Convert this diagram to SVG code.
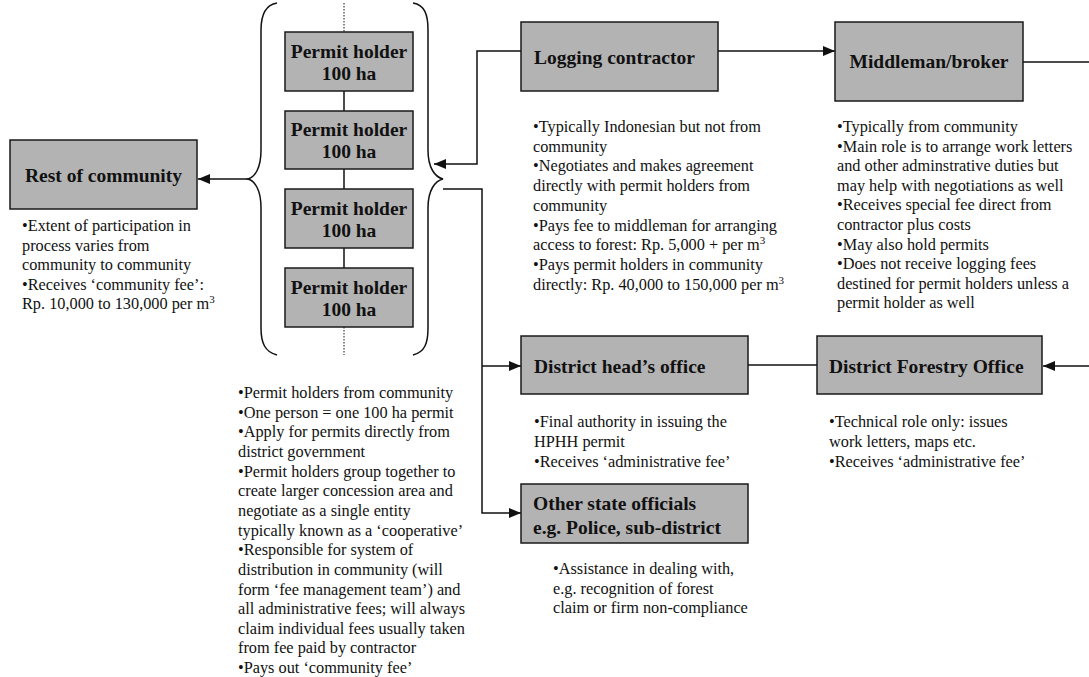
<svg xmlns="http://www.w3.org/2000/svg" width="1089" height="677" viewBox="0 0 1089 677">
<style>
.box{fill:#b3b3b3;stroke:#1a1a1a;stroke-width:1.5}
.lbl{font-family:"Liberation Serif","Times New Roman",serif;font-weight:bold;font-size:19.5px;fill:#111}
.note{font-family:"Liberation Serif","Times New Roman",serif;font-size:16.3px;fill:#111}
.ln{fill:none;stroke:#111;stroke-width:1.5}
.dot{fill:none;stroke:#111;stroke-width:1;stroke-dasharray:1.5 1.5}
</style>
<defs>
<marker id="ah" markerWidth="12" markerHeight="10" refX="12" refY="5" orient="auto" markerUnits="userSpaceOnUse">
<path d="M0,0 L12,5 L0,10 Z" fill="#111"/>
</marker>
</defs>
<rect width="1089" height="677" fill="#fff"/>

<g id="connectors">
<path class="ln" d="M261,30 C261,15 265,5 277,3 M261,30 L261,150 C261,168 255,177 248,179 C255,181 261,190 261,208 L261,328 C261,343 265,352 277,355"/>
<path class="ln" d="M413,3 C425,5 428,15 428,30 L428,150 C428,168 435,177 443,179 C435,181 428,190 428,208 L428,328 C428,343 425,352 413,355"/>
<line class="dot" x1="344" y1="3" x2="344" y2="32"/>
<line class="dot" x1="344" y1="327" x2="344" y2="355"/>
<line class="ln" x1="344" y1="91" x2="344" y2="111"/>
<line class="ln" x1="344" y1="169" x2="344" y2="189"/>
<line class="ln" x1="344" y1="248" x2="344" y2="268"/>
<path class="ln" d="M248,179 L198,179" marker-end="url(#ah)"/>
<path class="ln" d="M521,51 L477,51 L477,164 L434,164" marker-end="url(#ah)"/>
<path class="ln" d="M718,51 L835,51" marker-end="url(#ah)"/>
<path class="ln" d="M1023,62 L1089,62"/>
<path class="ln" d="M443,189 L482,189 L482,513 L521,513" marker-end="url(#ah)"/>
<path class="ln" d="M482,366 L521,366" marker-end="url(#ah)"/>
<path class="ln" d="M748,365 L817,365"/>
<path class="ln" d="M1089,366 L1043,366" marker-end="url(#ah)"/>
</g>

<g id="rest-of-community">
<rect class="box" x="10" y="140" width="187" height="69"/>
<text class="lbl" x="103.5" y="181.5" text-anchor="middle">Rest of community</text>
<text class="note" x="22" y="231">
<tspan x="22">•Extent of participation in</tspan>
<tspan x="22" dy="19.6">process varies from</tspan>
<tspan x="22" dy="19.6">community to community</tspan>
<tspan x="22" dy="19.6">•Receives ‘community fee’:</tspan>
<tspan x="22" dy="19.6">Rp. 10,000 to 130,000 per m<tspan font-size="11" dy="-6">3</tspan></tspan>
</text>
</g>

<g id="permit-holder-1">
<rect class="box" x="285" y="32" width="128" height="59"/>
<text class="lbl" x="349" y="58" text-anchor="middle">Permit holder</text>
<text class="lbl" x="349" y="80" text-anchor="middle">100 ha</text>
</g>
<g id="permit-holder-2">
<rect class="box" x="285" y="111" width="128" height="58"/>
<text class="lbl" x="349" y="136" text-anchor="middle">Permit holder</text>
<text class="lbl" x="349" y="158" text-anchor="middle">100 ha</text>
</g>
<g id="permit-holder-3">
<rect class="box" x="285" y="189" width="128" height="59"/>
<text class="lbl" x="349" y="214.5" text-anchor="middle">Permit holder</text>
<text class="lbl" x="349" y="236.5" text-anchor="middle">100 ha</text>
</g>
<g id="permit-holder-4">
<rect class="box" x="285" y="268" width="128" height="59"/>
<text class="lbl" x="349" y="293.5" text-anchor="middle">Permit holder</text>
<text class="lbl" x="349" y="315.5" text-anchor="middle">100 ha</text>
</g>
<g id="permit-holders-notes">
<text class="note" x="238" y="398">
<tspan x="238">•Permit holders from community</tspan>
<tspan x="238" dy="19.65">•One person = one 100 ha permit</tspan>
<tspan x="238" dy="19.65">•Apply for permits directly from</tspan>
<tspan x="238" dy="19.65">district government</tspan>
<tspan x="238" dy="19.65">•Permit holders group together to</tspan>
<tspan x="238" dy="19.65">create larger concession area and</tspan>
<tspan x="238" dy="19.65">negotiate as a single entity</tspan>
<tspan x="238" dy="19.65">typically known as a ‘cooperative’</tspan>
<tspan x="238" dy="19.65">•Responsible for system of</tspan>
<tspan x="238" dy="19.65">distribution in community (will</tspan>
<tspan x="238" dy="19.65">form ‘fee management team’) and</tspan>
<tspan x="238" dy="19.65">all administrative fees; will always</tspan>
<tspan x="238" dy="19.65">claim individual fees usually taken</tspan>
<tspan x="238" dy="19.65">from fee paid by contractor</tspan>
<tspan x="238" dy="19.65">•Pays out ‘community fee’</tspan>
</text>
</g>

<g id="logging-contractor">
<rect class="box" x="521" y="22" width="197" height="69"/>
<text class="lbl" x="534" y="64">Logging contractor</text>
<text class="note" x="533" y="132">
<tspan x="533">•Typically Indonesian but not from</tspan>
<tspan x="533" dy="19.7">community</tspan>
<tspan x="533" dy="19.7">•Negotiates and makes agreement</tspan>
<tspan x="533" dy="19.7">directly with permit holders from</tspan>
<tspan x="533" dy="19.7">community</tspan>
<tspan x="533" dy="19.7">•Pays fee to middleman for arranging</tspan>
<tspan x="533" dy="19.7">access to forest: Rp. 5,000 + per m<tspan font-size="11" dy="-6">3</tspan></tspan>
<tspan x="533" dy="25.7">•Pays permit holders in community</tspan>
<tspan x="533" dy="19.7">directly: Rp. 40,000 to 150,000 per m<tspan font-size="11" dy="-6">3</tspan></tspan>
</text>
</g>

<g id="middleman-broker">
<rect class="box" x="835" y="22" width="188" height="79"/>
<text class="lbl" x="929" y="68" text-anchor="middle">Middleman/broker</text>
<text class="note" x="837" y="132">
<tspan x="837">•Typically from community</tspan>
<tspan x="837" dy="19.6">•Main role is to arrange work letters</tspan>
<tspan x="837" dy="19.6">and other adminstrative duties but</tspan>
<tspan x="837" dy="19.6">may help with negotiations as well</tspan>
<tspan x="837" dy="19.6">•Receives special fee direct from</tspan>
<tspan x="837" dy="19.6">contractor plus costs</tspan>
<tspan x="837" dy="19.6">•May also hold permits</tspan>
<tspan x="837" dy="19.6">•Does not receive logging fees</tspan>
<tspan x="837" dy="19.6">destined for permit holders unless a</tspan>
<tspan x="837" dy="19.6">permit holder as well</tspan>
</text>
</g>

<g id="district-head-office">
<rect class="box" x="521" y="336" width="227" height="58"/>
<text class="lbl" x="534" y="373">District head’s office</text>
<text class="note" x="534" y="427">
<tspan x="534">•Final authority in issuing the</tspan>
<tspan x="534" dy="20">HPHH permit</tspan>
<tspan x="534" dy="20">•Receives ‘administrative fee’</tspan>
</text>
</g>

<g id="district-forestry-office">
<rect class="box" x="817" y="336" width="225" height="58"/>
<text class="lbl" x="829" y="373">District Forestry Office</text>
<text class="note" x="829" y="427">
<tspan x="829">•Technical role only: issues</tspan>
<tspan x="829" dy="20">work letters, maps etc.</tspan>
<tspan x="829" dy="20">•Receives ‘administrative fee’</tspan>
</text>
</g>

<g id="other-state-officials">
<rect class="box" x="521" y="484" width="227" height="59"/>
<text class="lbl" x="533" y="510">Other state officials</text>
<text class="lbl" x="533" y="534">e.g. Police, sub-district</text>
<text class="note" x="553" y="574">
<tspan x="553">•Assistance in dealing with,</tspan>
<tspan x="553" dy="19.7">e.g. recognition of forest</tspan>
<tspan x="553" dy="19.7">claim or firm non-compliance</tspan>
</text>
</g>
</svg>
